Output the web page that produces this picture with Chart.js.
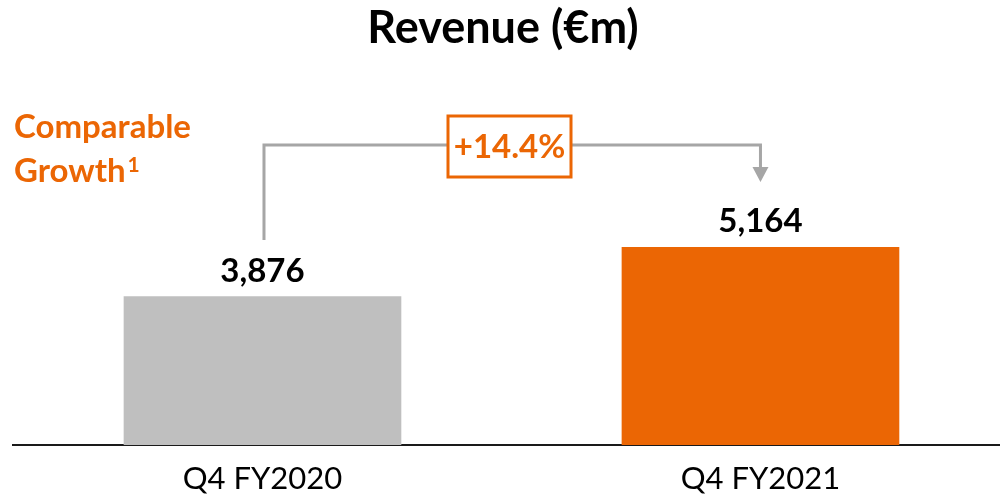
<!DOCTYPE html>
<html>
<head>
<meta charset="utf-8">
<script src="https://cdn.jsdelivr.net/npm/chart.js@4.4.0/dist/chart.umd.min.js"></script>
<style>
  html, body { margin: 0; padding: 0; background: #fff; }
  #wrap { width: 1000px; height: 497px; position: relative; }
</style>
</head>
<body>
<div id="wrap"><canvas id="revenueChart"></canvas></div>
<script>
var periods = ["Q4 FY2020", "Q4 FY2021"];
var revenue = [3876, 5164];
var barColors = ["#BFBFBF", "#EB6604"];
var growthLabel = "+14.4%";

var orange = "#EB6604";
var lineGray = "#A6A6A6";
var fontFamily = "Lato, 'Open Sans', sans-serif";

// value labels, title and the comparable growth bracket
var annotations = {
	id: "annotations",
	afterDatasetsDraw: function (chart) {
		var ctx = chart.ctx;
		var bars = chart.getDatasetMeta(0).data;
		ctx.save();

		// title
		ctx.fillStyle = "#000";
		ctx.textAlign = "center";
		ctx.textBaseline = "alphabetic";
		ctx.font = "bold 45px " + fontFamily;
		ctx.fillText("Revenue (€m)", 503, 43);

		// values above bars
		ctx.font = "bold 33px " + fontFamily;
		for (var i = 0; i < bars.length; i++) {
			ctx.fillText(revenue[i].toLocaleString("en-US"), bars[i].x, bars[i].y - 15);
		}

		// bracket
		var x0 = bars[0].x + 1.5;
		var x1 = bars[1].x;
		var topY = 145;
		ctx.strokeStyle = lineGray;
		ctx.lineWidth = 3;
		ctx.beginPath();
		ctx.moveTo(x0, 240);
		ctx.lineTo(x0, topY);
		ctx.lineTo(x1, topY);
		ctx.lineTo(x1, 168);
		ctx.stroke();
		ctx.fillStyle = lineGray;
		ctx.beginPath();
		ctx.moveTo(x1 - 8, 167);
		ctx.lineTo(x1 + 8, 167);
		ctx.lineTo(x1, 182);
		ctx.closePath();
		ctx.fill();

		// growth box
		ctx.fillStyle = "#fff";
		ctx.fillRect(448, 116, 123, 61);
		ctx.strokeStyle = orange;
		ctx.lineWidth = 3;
		ctx.strokeRect(448, 116, 123, 61);
		ctx.fillStyle = orange;
		ctx.font = "bold 33px " + fontFamily;
		ctx.fillText(growthLabel, 509.5, 158);

		// side label
		ctx.textAlign = "left";
		ctx.font = "bold 33px " + fontFamily;
		ctx.fillText("Comparable", 14, 138);
		ctx.fillText("Growth", 14, 182);
		var gw = ctx.measureText("Growth").width;
		ctx.font = "bold 21px " + fontFamily;
		ctx.fillText("1", 14 + gw + 2, 172);

		ctx.restore();
	}
};

new Chart(document.getElementById("revenueChart"), {
	type: "bar",
	data: {
		datasets: [{
			data: revenue.map(function (v, i) { return { x: i, y: v }; }),
			backgroundColor: barColors,
			borderWidth: 0,
			barThickness: 277
		}]
	},
	options: {
		responsive: true,
		maintainAspectRatio: false,
		animation: false,
		layout: { padding: { top: 62.4, left: 13, right: 0, bottom: 0 } },
		plugins: {
			legend: { display: false },
			tooltip: { enabled: false },
			title: { display: false }
		},
		scales: {
			x: {
				type: "linear",
				min: -0.501,
				max: 1.481,
				offset: false,
				z: 1,
				grid: { display: false, drawTicks: false, offset: false },
				border: { display: true, color: "#1a1a1a", width: 2 },
				afterBuildTicks: function (scale) {
					scale.ticks = periods.map(function (p, i) { return { value: i }; });
				},
				afterFit: function (scale) {
					scale.height = 52;
				},
				ticks: {
					color: "#000",
					padding: 18,
					maxRotation: 0,
					autoSkip: false,
					font: { family: fontFamily, size: 31, lineHeight: 1 },
					callback: function (value) { return periods[value] || ""; }
				}
			},
			y: {
				display: false,
				min: 0,
				max: 10000
			}
		}
	},
	plugins: [annotations]
});
</script>
</body>
</html>
